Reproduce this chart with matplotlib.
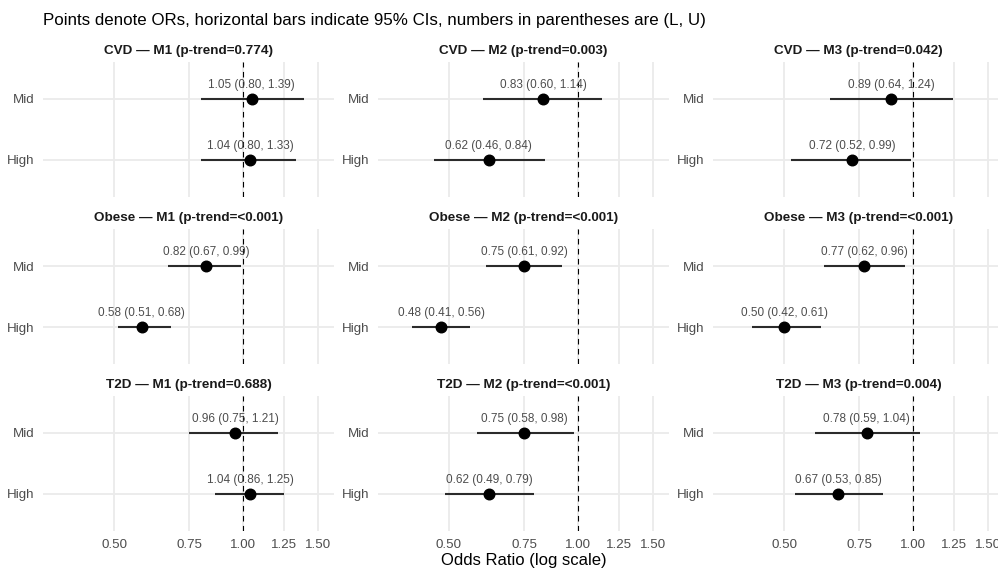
import numpy as np
import matplotlib
matplotlib.use('Agg')
import matplotlib.pyplot as plt
import matplotlib.ticker as ticker

plt.rcParams['font.family'] = ['Liberation Sans', 'DejaVu Sans']

outcomes = ['CVD', 'Obese', 'T2D']
models = ['M1', 'M2', 'M3']
levels = ['High', 'Mid']  # High at bottom, Mid on top

# p-trend per outcome (rows) x model (cols)
p_trend = [
    ['0.774', '0.003', '0.042'],
    ['<0.001', '<0.001', '<0.001'],
    ['0.688', '<0.001', '0.004'],
]

# odds ratios: [outcome][model] -> (High, Mid)
or_est = [
    [(1.04, 1.05), (0.62, 0.83), (0.72, 0.89)],
    [(0.58, 0.82), (0.48, 0.75), (0.50, 0.77)],
    [(1.04, 0.96), (0.62, 0.75), (0.67, 0.78)],
]
ci_low = [
    [(0.80, 0.80), (0.46, 0.60), (0.52, 0.64)],
    [(0.51, 0.67), (0.41, 0.61), (0.42, 0.62)],
    [(0.86, 0.75), (0.49, 0.58), (0.53, 0.59)],
]
ci_high = [
    [(1.33, 1.39), (0.84, 1.14), (0.99, 1.24)],
    [(0.68, 0.99), (0.56, 0.92), (0.61, 0.96)],
    [(1.25, 1.21), (0.79, 0.98), (0.85, 1.04)],
]

x_ticks = [0.50, 0.75, 1.00, 1.25, 1.50]

W, H = 998, 569
fig = plt.figure(figsize=(W / 100, H / 100), dpi=100)

col_left = [43, 377.8, 713]
row_top = [62.4, 229.4, 396.4]
pw, ph = 291, 134.2

for i, outc in enumerate(outcomes):
    for j, mod in enumerate(models):
        ax = fig.add_axes([col_left[j] / W, 1 - (row_top[i] + ph) / H, pw / W, ph / H])
        ax.set_xscale('log')
        ax.set_xlim(0.3407, 1.635)
        ax.set_ylim(0.4, 2.6)
        for s in ax.spines.values():
            s.set_visible(False)
        ax.xaxis.set_major_locator(ticker.FixedLocator(x_ticks))
        ax.xaxis.set_minor_locator(ticker.NullLocator())
        ax.xaxis.set_major_formatter(ticker.FixedFormatter([f'{t:.2f}' for t in x_ticks]))
        ax.set_yticks([1, 2])
        ax.set_yticklabels(levels)
        ax.tick_params(length=0, labelsize=9.6, labelcolor='#4D4D4D', pad=6)
        if i < 2:
            ax.tick_params(axis='x', labelbottom=False)
        ax.grid(True, color='#EBEBEB', lw=1.3)
        ax.set_axisbelow(True)
        ax.axvline(1.0, color='black', lw=0.8, ls=(0, (5, 4)), zorder=2)

        for k in range(2):
            y = k + 1
            o, lo, hi = or_est[i][j][k], ci_low[i][j][k], ci_high[i][j][k]
            ax.plot([lo, hi], [y, y], color='#2b2b2b', lw=1.5, solid_capstyle='butt', zorder=3)
            ax.plot(o, y, 'o', color='black', markersize=7.6, zorder=4)
            ax.text(o, y + 0.23, f'{o:.2f} ({lo:.2f}, {hi:.2f})', ha='center', va='center',
                    fontsize=8.5, color='#4D4D4D', zorder=5)

        fig.text((col_left[j] + pw / 2) / W, 1 - (row_top[i] - 11.5) / H,
                 f'{outc} \u2014 {mod} (p-trend={p_trend[i][j]})',
                 ha='center', va='center', fontsize=9.7, fontweight='bold', color='#1A1A1A')

fig.text(43 / W, 1 - 20 / H,
         'Points denote ORs, horizontal bars indicate 95% CIs, numbers in parentheses are (L, U)',
         ha='left', va='center', fontsize=12.2, color='black')
fig.text(523.5 / W, 1 - 560 / H, 'Odds Ratio (log scale)', ha='center', va='center',
         fontsize=12, color='black')

fig.savefig('out.png', dpi=100, facecolor='white')
